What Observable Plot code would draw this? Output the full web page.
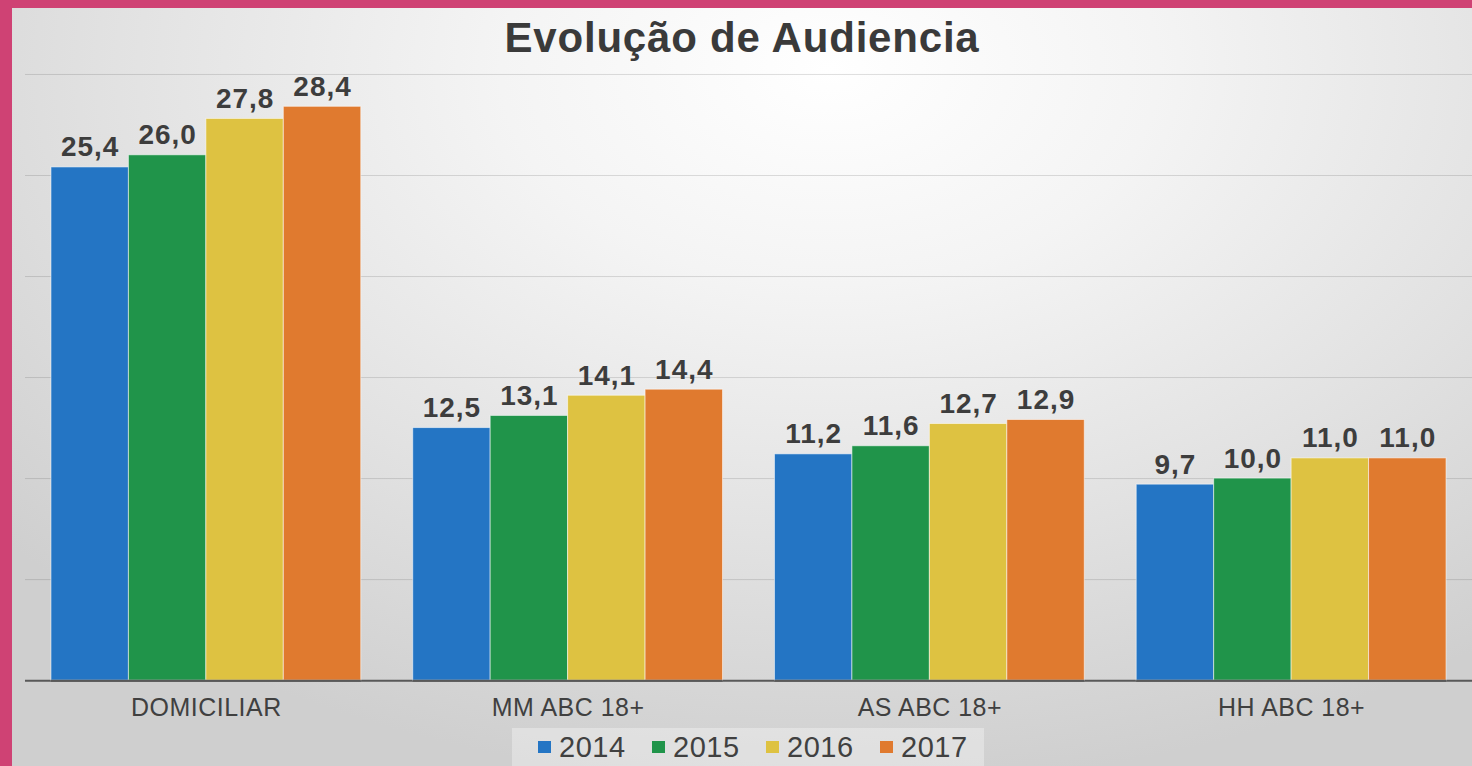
<!DOCTYPE html>
<html>
<head>
<meta charset="utf-8">
<script src="https://cdn.jsdelivr.net/npm/d3@7"></script>
<script src="https://cdn.jsdelivr.net/npm/@observablehq/plot@0.6"></script>
<style>
  html, body { margin: 0; padding: 0; }
  body { width: 1472px; height: 766px; background: #cf4274; position: relative; overflow: hidden; font-family: "Liberation Sans", Arial, sans-serif; }
  #panel { position: absolute; left: 12px; top: 8px; width: 1460px; height: 758px; overflow: hidden;
    background: radial-gradient(ellipse 75% 95% at 56% 8%, #ffffff 0%, #f4f4f4 30%, #e2e2e2 65%, #cfcfcf 100%); }
  #title { position: absolute; left: 0; top: 9px; width: 1460px; text-align: center; font-size: 42px; line-height: 41px; letter-spacing: 0.8px; font-weight: bold; color: #3a3a3a; }
  #grid, #chart { position: absolute; left: 0; top: 52px; }
  #chart g[aria-label="text"] text { letter-spacing: 1px; }
  #chart g[aria-label="fx-axis tick label"] text { letter-spacing: 0.5px; }
  #legend { position: absolute; left: 500px; top: 720px; width: 472px; height: 38px; background: rgba(255,255,255,0.32);
    display: flex; align-items: center; padding-left: 26px; box-sizing: border-box; }
  .item { display: flex; align-items: center; width: 114px; flex: none; }
  .sw { width: 13px; height: 12px; margin-right: 8px; }
  .lab { font-size: 29px; line-height: 38px; letter-spacing: 0.5px; color: #404040; }
</style>
</head>
<body>
<div id="panel">
  <div id="title">Evolução de Audiencia</div>
  <div id="grid"></div>
  <div id="chart"></div>
  <div id="legend"></div>
</div>
<script>
const categories = ["DOMICILIAR", "MM ABC 18+", "AS ABC 18+", "HH ABC 18+"];
const years = ["2014", "2015", "2016", "2017"];
const values2014 = [25.4, 12.5, 11.2, 9.7];
const values2015 = [26.0, 13.1, 11.6, 10.0];
const values2016 = [27.8, 14.1, 12.7, 11.0];
const values2017 = [28.4, 14.4, 12.9, 11.0];
const colors = ["#2475c4", "#20944a", "#dec241", "#e07a2f"];
const gridTicks = [5, 10, 15, 20, 25, 30];

const series = [values2014, values2015, values2016, values2017];
const data = categories.flatMap((c, i) => years.map((y, j) => ({category: c, year: y, value: series[j][i]})));
const fmt = v => v.toFixed(1).replace(".", ",");

const frame = {
  width: 1462,
  height: 669,
  marginLeft: 13,
  marginRight: 0,
  marginTop: 14,
  marginBottom: 48
};
const yScale = {domain: [0, 30], axis: null};

// Background layer: continuous gridlines and baseline across the whole plot width
const grid = Plot.plot({
  ...frame,
  style: {background: "transparent"},
  y: yScale,
  marks: [
    Plot.ruleY(gridTicks, {stroke: "#000", strokeOpacity: 0.13}),
    Plot.ruleY([0], {stroke: "#595959", strokeWidth: 2})
  ]
});
document.getElementById("grid").appendChild(grid);

const chart = Plot.plot({
  ...frame,
  style: {background: "transparent", fontFamily: "'Liberation Sans', Arial, sans-serif", fontSize: "25px", color: "#404040", overflow: "visible"},
  fx: {domain: categories, paddingInner: 0.1436, paddingOuter: 0.0718, round: false, axis: "bottom", label: null, tickSize: 0, tickPadding: 18},
  x: {domain: years, padding: 0, round: false, axis: null},
  y: yScale,
  color: {domain: years, range: colors},
  marks: [
    Plot.barY(data, {fx: "category", x: "year", y: "value", fill: "year", stroke: "#ffffff", strokeOpacity: 0.55, strokeWidth: 1}),
    Plot.ruleY([0], {stroke: "#595959", strokeWidth: 2}),
    Plot.text(data, {fx: "category", x: "year", y: "value", text: d => fmt(d.value), dy: -11, lineAnchor: "bottom",
      fontSize: 28, fontWeight: "bold", fill: "#3d3d3d"})
  ]
});
document.getElementById("chart").appendChild(chart);

const legend = document.getElementById("legend");
years.forEach((y, j) => {
  const item = document.createElement("div");
  item.className = "item";
  const sw = document.createElement("div");
  sw.className = "sw";
  sw.style.background = colors[j];
  const lab = document.createElement("span");
  lab.className = "lab";
  lab.textContent = y;
  item.appendChild(sw);
  item.appendChild(lab);
  legend.appendChild(item);
});
</script>
</body>
</html>
